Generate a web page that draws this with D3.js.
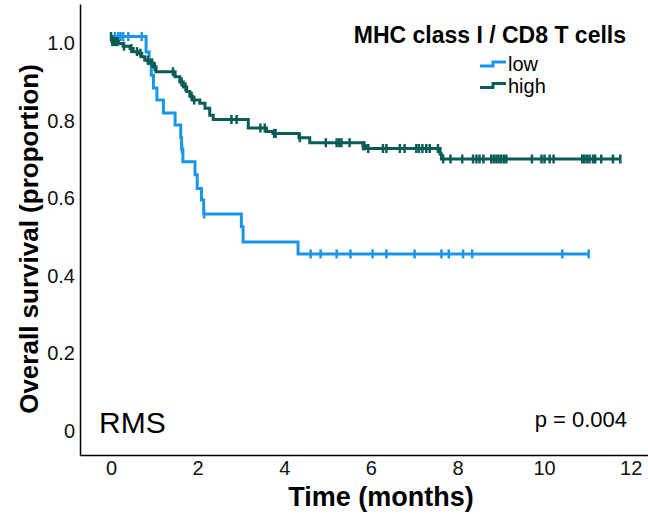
<!DOCTYPE html>
<html>
<head>
<meta charset="utf-8">
<script src="https://cdn.jsdelivr.net/npm/d3@7"></script>
<style>
  html, body { margin: 0; padding: 0; background: #fff; }
  svg { display: block; font-family: "Liberation Sans", Arial, sans-serif; }
</style>
</head>
<body>
<svg id="chart" width="648" height="514"></svg>
<script>
// Kaplan-Meier steps (time in months, survival after the step)
const lowEventTimes = [0.81, 0.88, 0.93, 0.98, 1.06, 1.21, 1.48, 1.61, 1.63, 1.66, 1.94, 1.99, 2.09, 2.14, 3.01, 3.05, 4.32];
const lowSurv = [0.960, 0.930, 0.900, 0.867, 0.836, 0.803, 0.772, 0.740, 0.710, 0.677, 0.643, 0.608, 0.578, 0.542, 0.509, 0.470, 0.439];
const lowCensor = [0.09, 0.17, 0.22, 0.28, 0.40, 0.71, 1.64, 2.15, 4.61, 4.84, 5.21, 5.53, 6.04, 6.36, 7.01, 7.63, 7.80, 8.13, 8.34, 10.42, 11.03];

const highEventTimes = [0.02, 0.17, 0.28, 0.44, 0.51, 0.63, 0.71, 0.78, 0.90, 0.98, 1.04, 1.48, 1.59, 1.67, 1.75, 1.82, 1.88, 2.05, 2.17, 2.28, 2.36, 3.17, 3.59, 3.74, 4.34, 4.59, 5.82, 5.88, 7.60, 7.63];
const highSurv = [0.987, 0.982, 0.975, 0.969, 0.961, 0.957, 0.948, 0.939, 0.932, 0.922, 0.909, 0.896, 0.883, 0.870, 0.858, 0.846, 0.836, 0.828, 0.815, 0.797, 0.786, 0.764, 0.755, 0.750, 0.739, 0.726, 0.718, 0.711, 0.697, 0.684];
const highCensor = [0.0, 0.03, 0.05, 0.08, 0.12, 0.15, 0.30, 0.47, 0.60, 0.68, 0.85, 0.95, 1.01, 1.43, 1.63, 1.72, 1.86, 1.92, 2.78, 2.90, 3.45, 3.55, 3.77, 3.80, 4.36, 4.96, 5.21, 5.27, 5.32, 5.51, 5.82, 5.85, 5.94, 6.28, 6.36, 6.67, 6.78, 7.05, 7.11, 7.19, 7.28, 7.36, 7.55, 7.67, 7.84, 8.11, 8.36, 8.44, 8.51, 8.60, 8.78, 8.84, 8.90, 8.95, 9.01, 9.07, 9.13, 9.72, 9.94, 10.01, 10.13, 10.22, 10.88, 10.93, 10.99, 11.05, 11.13, 11.18, 11.32, 11.59, 11.76];

const xTicks = [0, 2, 4, 6, 8, 10, 12];
const yTicks = [0, 0.2, 0.4, 0.6, 0.8, 1.0];
const yTickLabels = ["0", "0.2", "0.4", "0.6", "0.8", "1.0"];
const groupNames = ["low", "high"];
const groupColors = ["#1a95e8", "#0b5c55"];

const svg = d3.select("#chart");
svg.append("rect").attr("width", 648).attr("height", 514).attr("fill", "#fff");

const x = d3.scaleLinear().domain([-0.716, 12.4]).range([80, 648]);
const y = d3.scaleLinear().domain([-0.08, 1.084]).range([455, 4]);

// curves
const groups = [
  { times: lowEventTimes, surv: lowSurv, censor: lowCensor },
  { times: highEventTimes, surv: highSurv, censor: highCensor }
];

function survAt(g, t) {
  let s = 1;
  g.times.forEach((tt, i) => { if (tt <= t) s = g.surv[i]; });
  return s;
}

const line = d3.line()
  .x(d => x(d[0]))
  .y(d => y(d[1]))
  .curve(d3.curveStepAfter);

groups.forEach((g, i) => {
  const end = d3.max([d3.max(g.times), d3.max(g.censor)]);
  const pts = [[0, 1]].concat(g.times.map((t, j) => [t, g.surv[j]]));
  pts.push([end, g.surv[g.surv.length - 1]]);
  svg.append("path")
    .datum(pts)
    .attr("d", line)
    .attr("fill", "none")
    .attr("stroke", groupColors[i])
    .attr("stroke-width", 3);

  svg.append("g").selectAll("line")
    .data(g.censor)
    .join("line")
    .attr("x1", d => x(d)).attr("x2", d => x(d))
    .attr("y1", d => y(survAt(g, d)) - 4.5)
    .attr("y2", d => y(survAt(g, d)) + 4.5)
    .attr("stroke", groupColors[i])
    .attr("stroke-width", 2.5);
});

// axes
const xAxis = svg.append("g")
  .attr("transform", "translate(0,455)")
  .call(d3.axisBottom(x).tickValues(xTicks).tickSizeInner(0).tickSizeOuter(0).tickPadding(0));
xAxis.select(".domain").attr("stroke", "#000").attr("stroke-width", 1.5);
xAxis.selectAll("text")
  .attr("font-size", 20).attr("fill", "#111")
  .attr("font-family", "Liberation Sans, Arial, sans-serif")
  .attr("dy", 0).attr("y", 20);

const yAxis = svg.append("g")
  .attr("transform", "translate(80,0)")
  .call(d3.axisLeft(y).tickValues(yTicks).tickFormat((d, i) => yTickLabels[i]).tickSizeInner(0).tickSizeOuter(0).tickPadding(5));
yAxis.select(".domain").attr("stroke", "#000").attr("stroke-width", 1.5);
yAxis.selectAll("text")
  .attr("font-size", 20).attr("fill", "#111")
  .attr("font-family", "Liberation Sans, Arial, sans-serif")
  .attr("dy", 0).attr("y", 13);

// axis titles
svg.append("text")
  .attr("x", 381).attr("y", 506)
  .attr("text-anchor", "middle")
  .attr("font-size", 27).attr("font-weight", "bold")
  .text("Time (months)");

svg.append("text")
  .attr("transform", "translate(38,239) rotate(-90)")
  .attr("text-anchor", "middle")
  .attr("font-size", 26).attr("font-weight", "bold")
  .text("Overall survival (proportion)");

// legend
svg.append("text")
  .attr("x", 626).attr("y", 43)
  .attr("text-anchor", "end")
  .attr("font-size", 23).attr("font-weight", "bold")
  .text("MHC class I / CD8 T cells");

groupNames.forEach((name, i) => {
  const by = 64 + i * 21.5;
  svg.append("path")
    .attr("d", `M480,${by + 2}H493V${by - 2}H506`)
    .attr("fill", "none")
    .attr("stroke", groupColors[i])
    .attr("stroke-width", 3);
  svg.append("text")
    .attr("x", 508).attr("y", by + 7)
    .attr("font-size", 20)
    .text(name);
});

// annotations
svg.append("text")
  .attr("x", 99).attr("y", 433)
  .attr("font-size", 30)
  .text("RMS");

svg.append("text")
  .attr("x", 627).attr("y", 427)
  .attr("text-anchor", "end")
  .attr("font-size", 22)
  .text("p = 0.004");
</script>
</body>
</html>
